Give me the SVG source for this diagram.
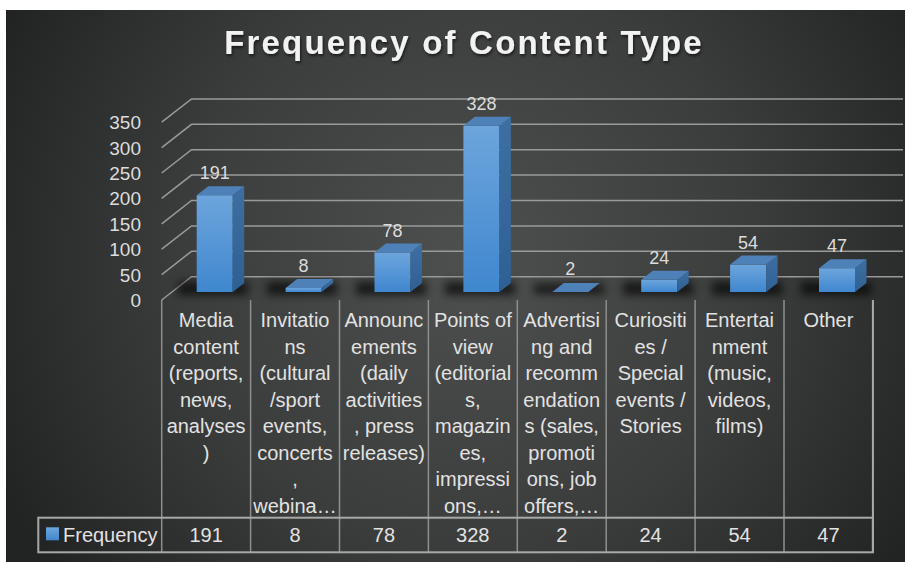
<svg xmlns="http://www.w3.org/2000/svg" width="905" height="562" viewBox="0 0 905 562">
<defs>
<radialGradient id="bg" cx="470" cy="260" r="520" gradientUnits="userSpaceOnUse">
<stop offset="0" stop-color="#4e4f4f"/>
<stop offset="0.55" stop-color="#3b3c3c"/>
<stop offset="1" stop-color="#222323"/>
</radialGradient>
<linearGradient id="front" x1="0" y1="0" x2="0" y2="1">
<stop offset="0" stop-color="#6da5dc"/>
<stop offset="1" stop-color="#3f87cf"/>
</linearGradient>
<linearGradient id="side" x1="0" y1="0" x2="0" y2="1">
<stop offset="0" stop-color="#3e6fa2"/>
<stop offset="1" stop-color="#2f6094"/>
</linearGradient>
<filter id="blur" x="-50%" y="-100%" width="200%" height="300%"><feGaussianBlur stdDeviation="4"/></filter>
<filter id="tshadow" x="-10%" y="-30%" width="120%" height="160%"><feDropShadow dx="1" dy="2" stdDeviation="1.5" flood-color="#000" flood-opacity="0.6"/></filter>
<style>
.grid{stroke:#9a9a9a;stroke-width:1.5;fill:none}
.tick{font-family:"Liberation Sans",Arial,sans-serif;font-size:19px;fill:#dcdcdc;text-anchor:end}
.val{font-family:"Liberation Sans",Arial,sans-serif;font-size:18px;fill:#dcdcdc;text-anchor:middle}
.cat{font-family:"Liberation Sans",Arial,sans-serif;font-size:20px;fill:#e2e2e2;text-anchor:middle}
.tbl{stroke:#8e8e8e;stroke-width:1.5;fill:none}
.front{fill:url(#front)}
.side{fill:url(#side)}
.top{fill:#4f81b9}
.shadow{fill:#000;opacity:0.65;filter:url(#blur)}
</style>
</defs>
<rect x="0" y="0" width="905" height="562" fill="#ffffff"/>
<rect x="6" y="10" width="899" height="552" fill="url(#bg)"/>
<text x="464" y="54" font-family="'Liberation Sans',Arial,sans-serif" font-size="33" font-weight="bold" letter-spacing="2.2" fill="#f2f2f2" text-anchor="middle" filter="url(#tshadow)">Frequency of Content Type</text>
<g id="gridlines">
<path class="grid" d="M161.7 300 L191.5 276.7 H903 M161.7 274.6 L191.5 251.3 H903 M161.7 249.2 L191.5 225.9 H903 M161.7 223.8 L191.5 200.5 H903 M161.7 198.4 L191.5 175.1 H903 M161.7 173 L191.5 149.7 H903 M161.7 147.6 L191.5 124.3 H903 M161.7 122.2 L191.5 98.9 H903"/>
</g>
<g id="axis">
<text class="tick" x="141" y="307">0</text>
<text class="tick" x="141" y="281.6">50</text>
<text class="tick" x="141" y="256.2">100</text>
<text class="tick" x="141" y="230.8">150</text>
<text class="tick" x="141" y="205.4">200</text>
<text class="tick" x="141" y="180">250</text>
<text class="tick" x="141" y="154.6">300</text>
<text class="tick" x="141" y="129.2">350</text>
</g>
<g id="shadows">
<rect class="shadow" x="178" y="282" width="70" height="13"/>
<rect class="shadow" x="267" y="282" width="70" height="13"/>
<rect class="shadow" x="356" y="282" width="70" height="13"/>
<rect class="shadow" x="445" y="282" width="70" height="13"/>
<rect class="shadow" x="534" y="284" width="70" height="10" opacity="0.4"/>
<rect class="shadow" x="623" y="282" width="70" height="13"/>
<rect class="shadow" x="712" y="282" width="70" height="13"/>
<rect class="shadow" x="801" y="282" width="70" height="13"/>
</g>
<g id="bar-media">
<rect class="front" x="196.7" y="195.2" width="36" height="96.8"/>
<polygon class="side" points="232.7,195.2 244.2,186.2 244.2,283 232.7,292"/>
<polygon class="top" points="196.7,195.2 208.2,186.2 244.2,186.2 232.7,195.2"/>
<text class="val" x="214.7" y="179">191</text>
</g>
<g id="bar-invitations">
<rect class="front" x="285.6" y="287.9" width="36" height="4.1"/>
<polygon class="side" points="321.6,287.9 333.1,278.9 333.1,283 321.6,292"/>
<polygon class="top" points="285.6,287.9 297.1,278.9 333.1,278.9 321.6,287.9"/>
<text class="val" x="303.6" y="271.5">8</text>
</g>
<g id="bar-announcements">
<rect class="front" x="374.5" y="252.5" width="36" height="39.5"/>
<polygon class="side" points="410.5,252.5 422,243.5 422,283 410.5,292"/>
<polygon class="top" points="374.5,252.5 386,243.5 422,243.5 410.5,252.5"/>
<text class="val" x="392.5" y="236.5">78</text>
</g>
<g id="bar-points">
<rect class="front" x="463.4" y="125.7" width="36" height="166.3"/>
<polygon class="side" points="499.4,125.7 510.9,116.7 510.9,283 499.4,292"/>
<polygon class="top" points="463.4,125.7 474.9,116.7 510.9,116.7 499.4,125.7"/>
<text class="val" x="481.4" y="109.5">328</text>
</g>
<g id="bar-advertising">
<polygon class="top" points="552.3,292 563.8,283 599.8,283 588.3,292"/>
<text class="val" x="570.3" y="275">2</text>
</g>
<g id="bar-curiosities">
<rect class="front" x="641.2" y="279.8" width="36" height="12.2"/>
<polygon class="side" points="677.2,279.8 688.7,270.8 688.7,283 677.2,292"/>
<polygon class="top" points="641.2,279.8 652.7,270.8 688.7,270.8 677.2,279.8"/>
<text class="val" x="659.2" y="263.5">24</text>
</g>
<g id="bar-entertainment">
<rect class="front" x="730.1" y="264.6" width="36" height="27.4"/>
<polygon class="side" points="766.1,264.6 777.6,255.6 777.6,283 766.1,292"/>
<polygon class="top" points="730.1,264.6 741.6,255.6 777.6,255.6 766.1,264.6"/>
<text class="val" x="748.1" y="248.5">54</text>
</g>
<g id="bar-other">
<rect class="front" x="819" y="268.2" width="36" height="23.8"/>
<polygon class="side" points="855,268.2 866.5,259.2 866.5,283 855,292"/>
<polygon class="top" points="819,268.2 830.5,259.2 866.5,259.2 855,268.2"/>
<text class="val" x="837" y="252">47</text>
</g>
<g id="table">
<path class="tbl" d="M161.7 300 V552.3 M250.6 300 V552.3 M339.5 300 V552.3 M428.4 300 V552.3 M517.3 300 V552.3 M606.2 300 V552.3 M695.1 300 V552.3 M784 300 V552.3 M872.9 300 V517.7"/>
<rect x="38.3" y="517.7" width="834.6" height="34.6" fill="none" stroke="#a8a8a8" stroke-width="2"/>
<line x1="872.9" y1="300" x2="872.9" y2="552.3" stroke="#a8a8a8" stroke-width="2"/>
<rect x="46" y="527.3" width="13" height="13" fill="url(#front)"/>
<text x="63" y="541.5" font-family="'Liberation Sans',Arial,sans-serif" font-size="20" fill="#e2e2e2">Frequency</text>
<text class="cat" y="541.5"><tspan x="206.1">191</tspan><tspan x="295">8</tspan><tspan x="383.9">78</tspan><tspan x="472.8">328</tspan><tspan x="561.7">2</tspan><tspan x="650.6">24</tspan><tspan x="739.5">54</tspan><tspan x="828.4">47</tspan></text>
</g>
<g id="categories">
<text class="cat"><tspan x="206.1" y="327">Media</tspan><tspan x="206.1" y="353.5">content</tspan><tspan x="206.1" y="380">(reports,</tspan><tspan x="206.1" y="406.5">news,</tspan><tspan x="206.1" y="433">analyses</tspan><tspan x="206.1" y="459.5">)</tspan></text>
<text class="cat"><tspan x="295" y="327">Invitatio</tspan><tspan x="295" y="353.5">ns</tspan><tspan x="295" y="380">(cultural</tspan><tspan x="295" y="406.5">/sport</tspan><tspan x="295" y="433">events,</tspan><tspan x="295" y="459.5">concerts</tspan><tspan x="295" y="486">,</tspan><tspan x="295" y="512.5">webina…</tspan></text>
<text class="cat"><tspan x="383.9" y="327">Announc</tspan><tspan x="383.9" y="353.5">ements</tspan><tspan x="383.9" y="380">(daily</tspan><tspan x="383.9" y="406.5">activities</tspan><tspan x="383.9" y="433">, press</tspan><tspan x="383.9" y="459.5">releases)</tspan></text>
<text class="cat"><tspan x="472.8" y="327">Points of</tspan><tspan x="472.8" y="353.5">view</tspan><tspan x="472.8" y="380">(editorial</tspan><tspan x="472.8" y="406.5">s,</tspan><tspan x="472.8" y="433">magazin</tspan><tspan x="472.8" y="459.5">es,</tspan><tspan x="472.8" y="486">impressi</tspan><tspan x="472.8" y="512.5">ons,…</tspan></text>
<text class="cat"><tspan x="561.7" y="327">Advertisi</tspan><tspan x="561.7" y="353.5">ng and</tspan><tspan x="561.7" y="380">recomm</tspan><tspan x="561.7" y="406.5">endation</tspan><tspan x="561.7" y="433">s (sales,</tspan><tspan x="561.7" y="459.5">promoti</tspan><tspan x="561.7" y="486">ons, job</tspan><tspan x="561.7" y="512.5">offers,…</tspan></text>
<text class="cat"><tspan x="650.6" y="327">Curiositi</tspan><tspan x="650.6" y="353.5">es /</tspan><tspan x="650.6" y="380">Special</tspan><tspan x="650.6" y="406.5">events /</tspan><tspan x="650.6" y="433">Stories</tspan></text>
<text class="cat"><tspan x="739.5" y="327">Entertai</tspan><tspan x="739.5" y="353.5">nment</tspan><tspan x="739.5" y="380">(music,</tspan><tspan x="739.5" y="406.5">videos,</tspan><tspan x="739.5" y="433">films)</tspan></text>
<text class="cat"><tspan x="828.4" y="327">Other</tspan></text>
</g>
</svg>
